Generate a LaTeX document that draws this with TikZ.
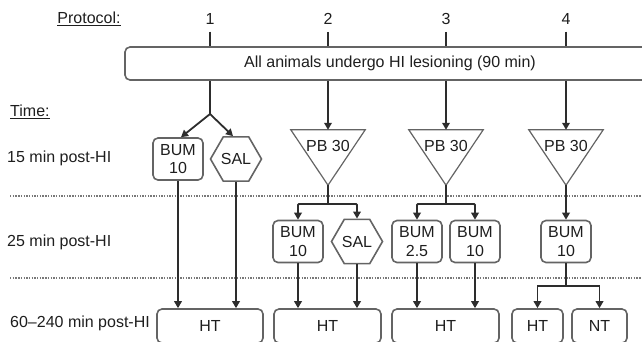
\documentclass[tikz,border=0pt]{standalone}
\usepackage{fontspec}
\setmainfont{Liberation Sans}
\usetikzlibrary{positioning,arrows.meta,shapes.geometric}
\definecolor{inkgray}{RGB}{30,30,30}
\definecolor{linegray}{RGB}{45,45,45}
\definecolor{boxgray}{RGB}{100,100,100}
\definecolor{dotgray}{RGB}{120,120,120}

\begin{document}
\begin{tikzpicture}[x=1pt,y=-1pt, every node/.style={font=\fontsize{16}{18.5}\selectfont, text=inkgray, inner sep=2pt},
    drugbox/.style={draw=boxgray, line width=1.6pt, rounded corners=5pt, minimum width=50pt, minimum height=42pt, align=center, inner sep=0pt},
    salbox/.style={draw=boxgray, line width=1.6pt, regular polygon, regular polygon sides=6, minimum size=51pt, inner sep=0pt},
    pbtri/.style={minimum width=74pt, minimum height=55pt, text height=11.5pt, text depth=24pt, inner sep=0pt},
    endbox/.style={draw=boxgray, line width=1.6pt, rounded corners=5pt, minimum height=34pt},
    arr/.style={-{Triangle[length=7pt,width=7.5pt]}, linegray, line width=1.8pt},
    dotline/.style={dotgray, line width=1.3pt, dash pattern=on 1.4pt off 1.3pt}]
      \path[use as bounding box, clip] (0,0) rectangle (642,341);
      % header
      \node (protocol) at (89,19) {\underline{Protocol:}};
      \node (n1) at (210,19) {1};
      \node (n2) at (328,19) {2};
      \node (n3) at (446,19) {3};
      \node (n4) at (566,19) {4};
      \node[draw=boxgray, line width=1.6pt, rounded corners=5pt, minimum width=530pt, minimum height=33pt] (lesion) at (390,63.5) {All animals undergo HI lesioning (90 min)};
      \foreach \n in {n1,n2,n3,n4}
        \draw[linegray, line width=1.8pt, shorten <=5pt] (\n.south) -- (\n |- lesion.north);
      % time column
      \node[anchor=west] (time) at (8,112) {\underline{Time:}};
      \node[anchor=west] (t15) at (5,158) {15 min post-HI};
      \node[anchor=west] (t25) at (5,242) {25 min post-HI};
      \node[anchor=west] (t60) at (8,323) {60--240 min post-HI};
      \draw[dotline] (10,196) -- (642,196);
      \draw[dotline] (10,278) -- (642,278);
      % 15 min
      \node[drugbox] (bum1) at (178,159) {BUM\\10};
      \node[salbox] (sal1) at (236,159) {SAL};
      \node[pbtri] (pb2) at (328,157.5) {PB 30};
      \node[pbtri] (pb3) at (446,157.5) {PB 30};
      \node[pbtri] (pb4) at (566,157.5) {PB 30};
      \foreach \t in {pb2,pb3,pb4}
        \draw[boxgray, line width=1.2pt] (\t.north west) -- (\t.north east) -- (\t.south) -- cycle;
      % 25 min
      \node[drugbox] (bum2) at (298,241.5) {BUM\\10};
      \node[salbox] (sal2) at (357,241.5) {SAL};
      \node[drugbox] (bum3a) at (417,241.5) {BUM\\2.5};
      \node[drugbox] (bum3b) at (475,241.5) {BUM\\10};
      \node[drugbox] (bum4) at (566,241.5) {BUM\\10};
      % 60-240 min
      \node[endbox, minimum width=106pt] (ht1) at (210,326) {HT};
      \node[endbox, minimum width=107pt] (ht2) at (327.5,326) {HT};
      \node[endbox, minimum width=107pt] (ht3) at (445.5,326) {HT};
      \node[endbox, minimum width=51pt] (ht4) at (537.5,326) {HT};
      \node[endbox, minimum width=55pt] (nt4) at (599.5,326) {NT};
      % branch points
      \coordinate (br1) at (210,114);
      \coordinate (br2) at (328,204);
      \coordinate (br3) at (446,204);
      \coordinate (br4) at (566,286);
      % protocol 1
      \draw[linegray, line width=1.8pt] (lesion.south -| n1) -- (br1);
      \draw[arr] (br1) -- ([xshift=3pt]bum1.north);
      \draw[arr] (br1) -- ([xshift=-3pt]sal1.north);
      % protocols 2-4
      \foreach \n/\p in {n2/pb2,n3/pb3,n4/pb4}
        \draw[arr] (lesion.south -| \n) -- (\p.north);
      \draw[linegray, line width=1.8pt] (pb2.south) -- (br2);
      \draw[linegray, line width=1.8pt] (pb3.south) -- (br3);
      \foreach \b/\c in {br2/bum2,br2/sal2,br3/bum3a,br3/bum3b}
        \draw[arr, rounded corners=1pt] (\b) -| (\c.north);
      \draw[arr] (pb4.south) -- (bum4.north);
      \draw[linegray, line width=1.8pt] (bum4.south) -- (br4);
      \draw[arr] (br4) -| (ht4.north);
      \draw[arr] (br4) -| (nt4.north);
      % to outcome
      \foreach \a/\b in {bum1/ht1,sal1/ht1,bum2/ht2,sal2/ht2,bum3a/ht3,bum3b/ht3}
        \draw[arr] (\a.south) -- (\a.south |- \b.north);
    \end{tikzpicture}
\end{document}
